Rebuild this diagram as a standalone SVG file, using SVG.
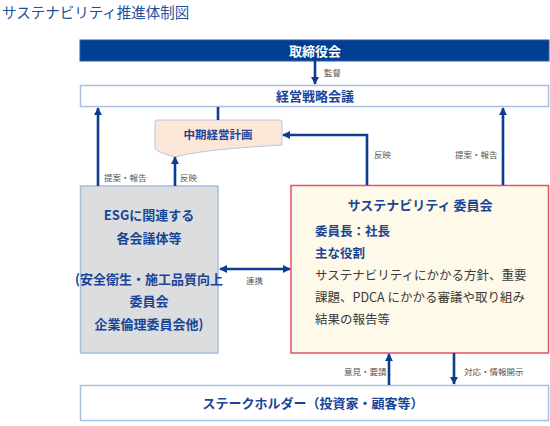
<svg xmlns="http://www.w3.org/2000/svg" width="550" height="426" viewBox="0 0 550 426">
<defs>
<marker id="ah" viewBox="0 0 10 10" refX="9" refY="5" markerWidth="3.2" markerHeight="3.2" orient="auto-start-reverse" markerUnits="strokeWidth">
<path d="M0,0 L10,5 L0,10 Z" fill="#0d3c8f"/>
</marker>
<style>
text{font-family:"Noto Sans CJK JP","Noto Sans",sans-serif;}
.t{font-size:14.5px;fill:#1f4f9c;}
.bx{fill:#fff;stroke:#a9bfe0;stroke-width:1.5;}
.h{font-size:13px;font-weight:bold;fill:#1a4597;text-anchor:middle;}
.b{font-size:12.5px;font-weight:bold;fill:#1a4597;}
.n{font-size:12.5px;fill:#3a3a3a;}
.s{font-size:8.5px;fill:#555;}
.c{fill:none;stroke:#0d3c8f;stroke-width:2.6;}
</style>
</defs>
<text class="t" x="2" y="18">サステナビリティ推進体制図</text>

<g id="board">
<rect x="80" y="40" width="469" height="21" fill="#003f92" stroke="#2a5aa8" stroke-width="1"/>
<text class="h" x="315" y="55.5" fill="#fff" style="fill:#fff">取締役会</text>
</g>

<g id="mgmt">
<rect class="bx" x="80.5" y="85.5" width="468" height="21"/>
<text class="h" x="315" y="101">経営戦略会議</text>
</g>

<g id="plan">
<path d="M155,122 Q155,120 157,120 L280,120 Q282,120 282,122 L282,145 C250,147 200,150 175,157 C165,154 158,152 155,149 Z" fill="#fce6d8" stroke="#b9c6df" stroke-width="1"/>
<text class="h" x="218" y="139" style="font-size:11.5px">中期経営計画</text>
</g>

<g id="esg">
<rect x="80.5" y="186" width="137.5" height="167" fill="#dcddde" stroke="#a9bfe0" stroke-width="1.5"/>
<text class="h" x="149" y="220">ESGに関連する</text>
<text class="h" x="149" y="243">各会議体等</text>
<text class="h" x="149" y="284">(安全衛生・施工品質向上</text>
<text class="h" x="149" y="306">委員会</text>
<text class="h" x="149" y="329">企業倫理委員会他)</text>
</g>

<g id="sus">
<rect x="291" y="185.5" width="257.5" height="167.5" fill="#fef9e8" stroke="#e2506a" stroke-width="1.5"/>
<text class="h" x="420" y="210">サステナビリティ 委員会</text>
<text class="b" x="315" y="236">委員長：社長</text>
<text class="b" x="315" y="258">主な役割</text>
<text class="n" x="315" y="280">サステナビリティにかかる方針、重要</text>
<text class="n" x="315" y="302">課題、PDCA にかかる審議や取り組み</text>
<text class="n" x="315" y="324">結果の報告等</text>
</g>

<g id="stake">
<rect class="bx" x="80.5" y="385.5" width="468" height="35"/>
<text class="h" x="313" y="408">ステークホルダー（投資家・顧客等）</text>
</g>

<g id="connectors">
<line class="c" x1="315" y1="61" x2="315" y2="84" marker-end="url(#ah)"/>
<line class="c" x1="98" y1="186" x2="98" y2="108" marker-end="url(#ah)"/>
<line class="c" x1="218" y1="107" x2="218" y2="120"/>
<line class="c" x1="175" y1="186" x2="175" y2="157" marker-end="url(#ah)"/>
<polyline class="c" points="367,185 367,135 283,135" marker-end="url(#ah)"/>
<line class="c" x1="503" y1="185" x2="503" y2="108" marker-end="url(#ah)"/>
<line class="c" x1="220" y1="269" x2="290" y2="269" marker-start="url(#ah)" marker-end="url(#ah)"/>
<line class="c" x1="389" y1="385" x2="389" y2="354" marker-end="url(#ah)"/>
<line class="c" x1="454" y1="353" x2="454" y2="384" marker-end="url(#ah)"/>
</g>

<g id="labels">
<text class="s" x="324" y="76">監督</text>
<text class="s" x="104" y="181">提案・報告</text>
<text class="s" x="180" y="181">反映</text>
<text class="s" x="374" y="158">反映</text>
<text class="s" x="455" y="158">提案・報告</text>
<text class="s" x="246" y="284">連携</text>
<text class="s" x="344" y="375">意見・要請</text>
<text class="s" x="464" y="375">対応・情報開示</text>
</g>
</svg>
